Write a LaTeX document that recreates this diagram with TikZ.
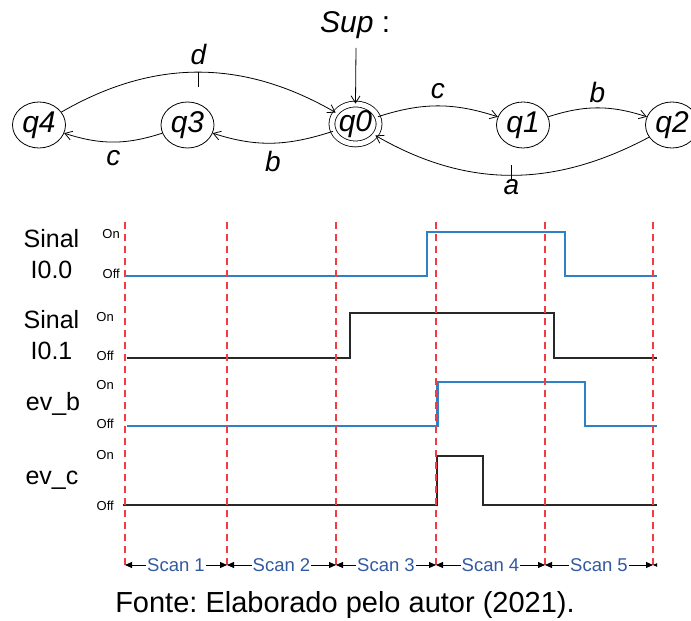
\documentclass[tikz,border=0pt]{standalone}
\usepackage{fontspec}
\setmainfont{Liberation Sans}
\usetikzlibrary{arrows.meta,shapes.geometric}
\frenchspacing

\definecolor{sigblue}{RGB}{46,128,200}
\definecolor{sigblack}{RGB}{40,40,40}
\definecolor{scanblue}{RGB}{50,90,160}
\definecolor{cutred}{RGB}{240,60,70}

\tikzset{
  state/.style={ellipse, draw, line width=0.8pt, minimum width=53pt, minimum height=46pt,
    inner sep=0pt, font=\fontsize{30}{30}\selectfont\itshape},
  marked/.style={state, double, double distance=5pt, minimum width=47pt, minimum height=40pt},
  ev/.style={inner sep=0pt, font=\fontsize{28}{28}\selectfont\itshape},
  lvl/.style={anchor=east, inner sep=0pt, font=\fontsize{13}{13}\selectfont},
  signame/.style={align=center, inner sep=0pt, font=\fontsize{25}{30.5}\selectfont},
  wave/.style={line width=2.2pt},
  scancut/.style={cutred, line width=1.6pt, dash pattern=on 7pt off 5pt},
  scanarrow/.style={{Triangle[length=7pt,width=6pt]}-{Triangle[length=7pt,width=6pt]}, line width=0.9pt},
  scanlabel/.style={fill=white, inner sep=1pt, text=scanblue, font=\fontsize{18.5}{18.5}\selectfont}
}

\begin{document}
\begin{tikzpicture}[>={Straight Barb[length=7pt,width=9pt]}, x=1pt, y=1pt]
\useasboundingbox (0,0) rectangle (691,621);

% automaton
\node[state] (q4) at (39,496) {q4};
\node[state] (q3) at (187.5,496) {q3};
\node[marked] (q0) at (355.5,497) {q0};
\node[state] (q1) at (523,496) {q1};
\node[state] (q2) at (672,496) {q2};
\node[anchor=base west, inner sep=0pt, font=\fontsize{30}{30}\selectfont] (sup) at (320,588) {\textit{Sup} :};
\coordinate (init) at (356,573);

\draw[line width=0.8pt, ->] (init) -- (q0.north);
\draw[line width=0.8pt, ->] (q4) to[out=30,in=150] coordinate[pos=.5] (dmid) (q0);
\draw[line width=0.8pt] (dmid) -- ++(0,-15);
\node[ev, anchor=south] (lbd) at (dmid) [yshift=7pt] {d};
\draw[line width=0.8pt, ->] (q3) to[out=198,in=-18] node[ev, below=8pt] (lbc1) {c} (q4);
\draw[line width=0.8pt, ->] (q0) to[out=198,in=-18] node[ev, below=8pt] (lbb1) {b} (q3);
\draw[line width=0.8pt, ->] (q0) to[out=18,in=162] node[ev, above=7pt] (lbc2) {c} (q1);
\draw[line width=0.8pt, ->] (q1) to[out=18,in=162] node[ev, above=5pt] (lbb2) {b} (q2);
\draw[line width=0.8pt, ->] (q2) to[out=208,in=-30] coordinate[pos=.5] (amid) (q0);
\draw[line width=0.8pt] (amid) ++(0,-4) -- ++(0,14);
\node[ev, anchor=north] (lba) at (amid) [yshift=-4pt] {a};

% signal names and levels
\node[signame] (s0) at (51.5,366.8) {Sinal\\I0.0};
\node[signame] (s1) at (51.5,286.1) {Sinal\\I0.1};
\node[signame, anchor=base] (s2) at (53,210) {ev\_b};
\node[signame, anchor=base] (s3) at (52,136) {ev\_c};

\node[lvl] (on0) at (120,387) {On};
\node[lvl] (off0) at (120,347) {Off};
\node[lvl] (on1) at (114,304) {On};
\node[lvl] (off1) at (114,265) {Off};
\node[lvl] (on2) at (114,236) {On};
\node[lvl] (off2) at (114,196.7) {Off};
\node[lvl] (on3) at (114,166) {On};
\node[lvl] (off3) at (114,115.3) {Off};

% waveforms
\draw[wave, sigblue] (126,345) -| (426.7,389) -| (565.3,345) -- (656.7,345);
\draw[wave, sigblack] (126.7,263.3) -| (350,307.7) -| (554.3,263.3) -- (656.7,263.3);
\draw[wave, sigblue] (127,195) -| (437.5,239.3) -| (585,195) -- (656.7,195);
\draw[wave, sigblack] (122.7,116) -| (436.7,165) -| (482.7,116) -- (656.7,116);

% scan cycles
\foreach \x [count=\i from 0] in {125,227,336,436,545,653}
{
    \coordinate (t\i) at (\x,56);
    \draw[scancut] (t\i) ++(0,343) -- (\x,53);
}
\foreach \a/\b/\n in {0/1/1,1/2/2,2/3/3,3/4/4,4/5/5}
{
    \draw[scanarrow] (t\a) -- node[scanlabel] (scan\n) {Scan \n} (t\b);
}
\begin{scope}
\clip (640,40) rectangle (657,70);
\draw[line width=0.9pt, {Triangle[length=7pt,width=6pt]}-] (t5) -- ++(10,0);
\end{scope}

\node[anchor=base, inner sep=0pt, font=\fontsize{29}{29}\selectfont] (src) at (345,8) {Fonte: Elaborado pelo autor (2021).};

\end{tikzpicture}
\end{document}
